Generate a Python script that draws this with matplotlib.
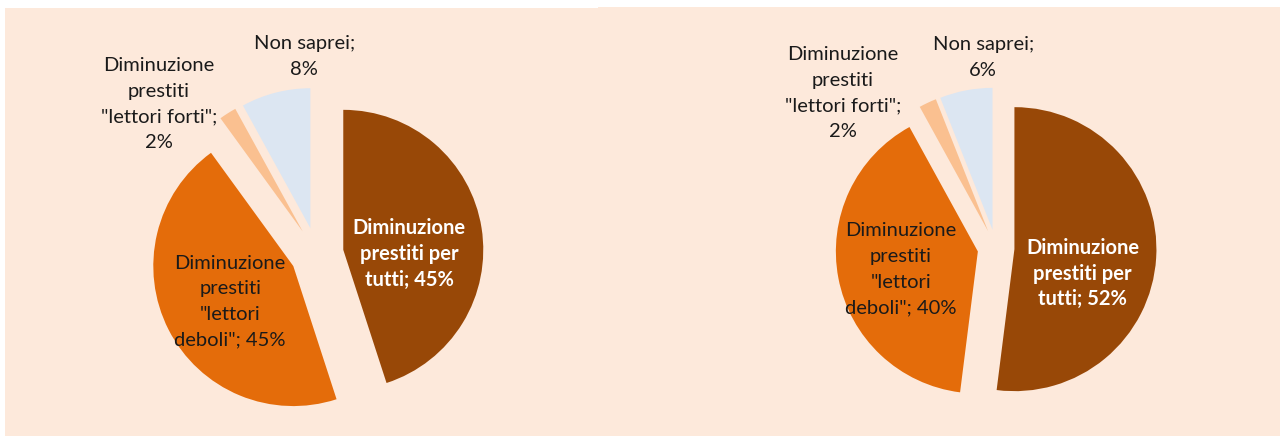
import matplotlib
matplotlib.use('Agg')
import numpy as np
import matplotlib.pyplot as plt
from matplotlib.patches import Rectangle

plt.rcParams['font.family'] = ['Lato', 'DejaVu Sans']

# data
categories = ['Diminuzione prestiti per tutti',
              'Diminuzione prestiti "lettori deboli"',
              'Diminuzione prestiti "lettori forti"',
              'Non saprei']
left_values = [45, 45, 2, 8]
right_values = [52, 40, 2, 6]
label_templates = ['Diminuzione\nprestiti per\ntutti; {}%',
                   'Diminuzione\nprestiti\n"lettori\ndeboli"; {}%',
                   'Diminuzione\nprestiti\n"lettori forti";\n{}%',
                   'Non saprei;\n{}%']

colors = ['#984807', '#E46C0A', '#FAC090', '#DCE6F2']
text_colors = ['white', '#1a1a1a', '#1a1a1a', '#1a1a1a']
weights = ['bold', 'normal', 'normal', 'normal']
spacings = [1.35, 1.62, 1.62, 1.62]
bg = '#FDE9DB'

W, H = 1280, 436
fig = plt.figure(figsize=(W / 100, H / 100), dpi=100)
fig.patch.set_facecolor('white')
ax = fig.add_axes([0, 0, 1, 1])

# panels (screen pixel boxes: x0, y0, x1, y1)
for x0, y0, x1, y1 in [(5, 8, 598, 436), (598, 7, 1280, 436)]:
    ax.add_patch(Rectangle((x0, H - y1), x1 - x0, y1 - y0, facecolor=bg,
                           edgecolor='none', zorder=0))

# pie layout: center (screen px), radius, explode (fraction of r), label offsets (in radii)
pies = [
    (left_values, (317, 254), 140, 0.19,
     [(0.66, 0.0), (-0.62, 0.34), (-1.13, -1.07), (-0.09, -1.41)]),
    (right_values, (996, 248), 142, 0.13,
     [(0.61, 0.18), (-0.67, 0.15), (-1.08, -1.09), (-0.09, -1.34)]),
]

for values, (cx, cy), r, ex, offs in pies:
    ax.pie(values, colors=colors, startangle=90, counterclock=False,
           explode=[ex * r] * len(values), radius=r, center=(cx, H - cy),
           wedgeprops=dict(linewidth=0), frame=True)
    for v, tmpl, (dx, dy), tc, fw, ls in zip(values, label_templates, offs,
                                              text_colors, weights, spacings):
        ax.text(cx + dx * r, H - (cy + dy * r), tmpl.format(v),
                ha='center', va='center', multialignment='center',
                fontsize=14.5, color=tc, fontweight=fw, linespacing=ls,
                zorder=5)

ax.set_xlim(0, W)
ax.set_ylim(0, H)
ax.set_axis_off()
fig.savefig('out.png', dpi=100, facecolor='white')
